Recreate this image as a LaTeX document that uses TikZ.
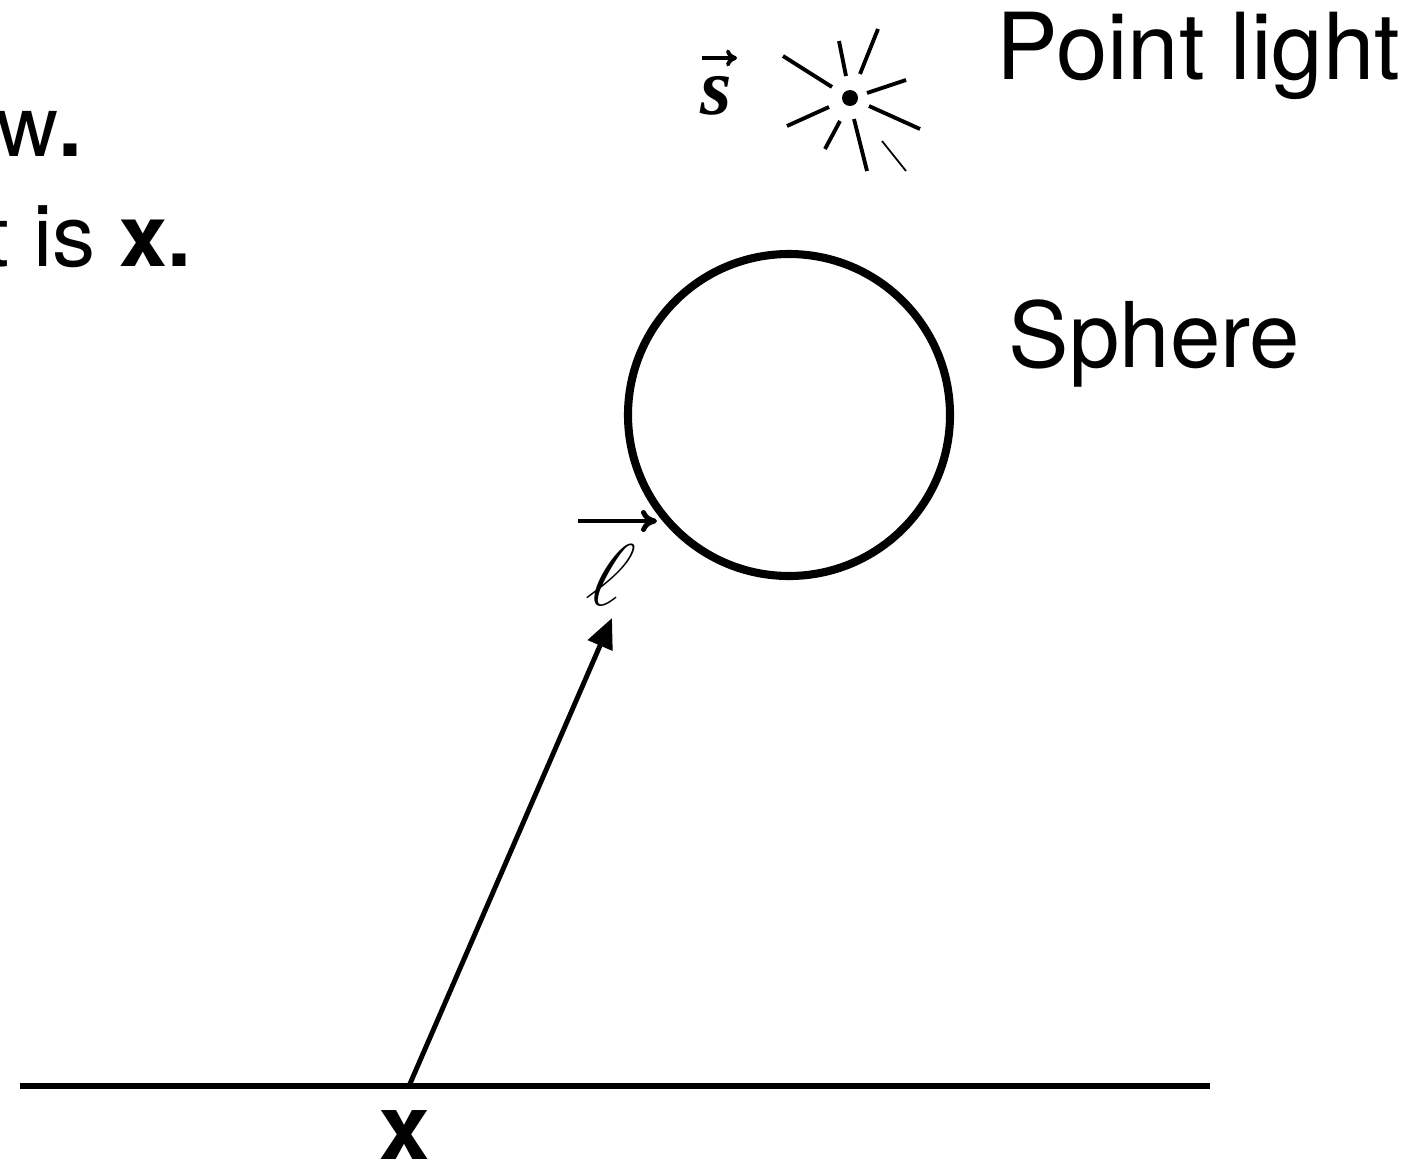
\documentclass[tikz,border=0pt]{standalone}
\usepackage{fontspec}
\setmainfont{TeX Gyre Heros}
\newfontfamily\serifvec{Liberation Serif}
\usetikzlibrary{arrows.meta}
\tikzset{
    ray/.style={line width=1.1pt},
    thinray/.style={line width=0.5pt},
    caption/.style={inner sep=0pt, font=\fontsize{25.8}{25.8}\selectfont},
    cutline/.style={inner sep=0pt, anchor=base east, font=\fontsize{24.5}{24.5}\selectfont},
}

\begin{document}
\begin{tikzpicture}
    \useasboundingbox (0, 0) rectangle (14.14, 11.62);
    \clip (0, 0) rectangle (14.14, 11.62);

    % cut off text on the left
    \node[cutline] (lineone) at (0.83, 10.05) {w\textbf{.}};
    \node[cutline] (linetwo) at (1.92, 8.96) {t is \textbf{x.}};

    % point light
    \fill (8.50, 10.64) circle (0.08);
    \draw[ray] (7.83, 11.06) -- (8.32, 10.75);
    \draw[ray] (8.39, 11.21) -- (8.46, 10.86);
    \draw[ray] (8.78, 11.33) -- (8.60, 10.88);
    \draw[ray] (9.06, 10.82) -- (8.67, 10.69);
    \draw[ray] (9.20, 10.33) -- (8.69, 10.56);
    \draw[ray] (8.54, 10.43) -- (8.67, 9.91);
    \draw[ray] (8.40, 10.41) -- (8.25, 10.13);
    \draw[ray] (8.29, 10.55) -- (7.87, 10.36);
    \draw[thinray] (8.82, 10.21) -- (9.06, 9.91);
    \node[caption, anchor=base west, font=\fontsize{26.3}{26.3}\selectfont] (pointlight) at (9.96, 10.82) {Point light};
    \node[inner sep=0pt, anchor=base] (svec) at (7.16, 10.48) {\fontsize{23}{23}\selectfont\serifvec\bfseries\itshape s};
    \coordinate (sbarl) at (7.02, 11.04);
    \coordinate (sbarr) at (7.37, 11.04);
    \draw[line width=1.1pt, -{To[length=0.11cm, width=0.17cm]}] (sbarl) -- (sbarr);

    % sphere
    \draw[line width=2.3pt] (7.89, 7.47) circle (1.61);
    \node[caption, anchor=base west] (sphere) at (10.08, 7.95) {Sphere};

    % ground and vector
    \coordinate (left) at (0.20, 0.76);
    \coordinate (right) at (12.10, 0.76);
    \coordinate (xpoint) at (4.09, 0.76);
    \coordinate (tip) at (6.12, 5.44);
    \draw[line width=1.6pt] (left) -- (right);
    \draw[line width=1.4pt, -{Triangle[length=0.3cm, width=0.26cm]}] (xpoint) -- (tip);
    \node[caption, anchor=base] (xlabel) at (4.05, 0.03) {\textbf{x}};
    \node[inner sep=0pt, anchor=base, xslant=0.3, transform shape] (lvec) at (6.01, 5.57) {\fontsize{29}{29}\selectfont $\ell$};
    \coordinate (lbarl) at (5.78, 6.41);
    \coordinate (lbarr) at (6.57, 6.41);
    \draw[line width=1.4pt, -{To[length=0.16cm, width=0.22cm]}] (lbarl) -- (lbarr);
\end{tikzpicture}
\end{document}
